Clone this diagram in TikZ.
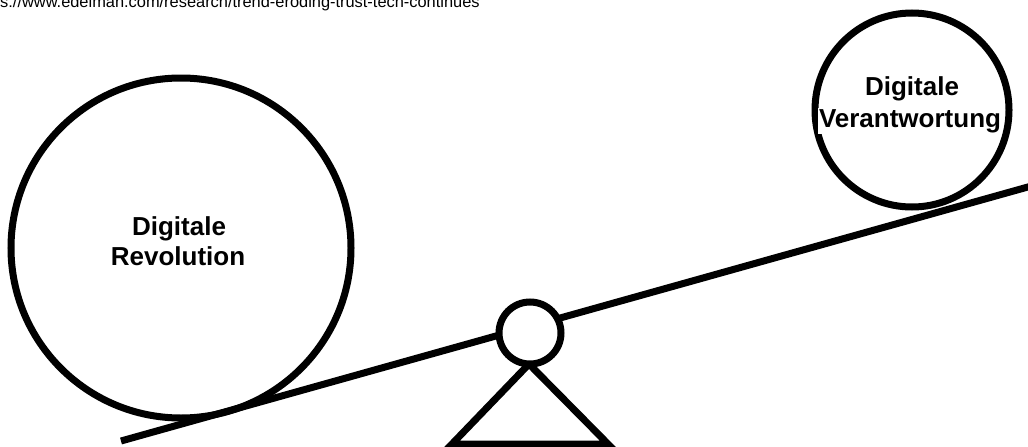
\documentclass[tikz,border=0pt]{standalone}
\usepackage{fontspec}
\setmainfont{Liberation Sans}
\begin{document}
\begin{tikzpicture}[x=1pt,y=-1pt,
  stroke/.style={line width=7pt, draw=black},
  ring/.style={stroke, circle, inner sep=0pt},
  label/.style={font=\bfseries\fontsize{26}{31}\selectfont, inner sep=1pt, fill=white, anchor=base},
  urltext/.style={font=\fontsize{16.4}{19}\selectfont, inner sep=0pt, anchor=base west}
]
\useasboundingbox (0,0) rectangle (1028,447);
\clip (0,0) rectangle (1028,447);
\fill[white] (0,0) rectangle (1028,447);

\node[urltext] (url) at (0,8) {s://www.edelman.com/research/trend-eroding-trust-tech-continues};

% beam
\coordinate (beamL) at (121,441);
\coordinate (beamR) at (1045,182.2);
\draw[stroke] (beamL) -- (beamR);

% weights
\node[ring, minimum size=340pt] (big) at (181,248) {};
\node[ring, minimum size=194pt] (small) at (912,110) {};

% fulcrum
\coordinate (apex) at (529,364);
\coordinate (baseL) at (452,444);
\coordinate (baseR) at (608,444);
\draw[stroke, line join=miter] (apex) -- (baseL) -- (baseR) -- cycle;
\node[ring, fill=white, minimum size=62pt] (pivot) at (530,333) {};

% labels
\node[label] (l1) at (179,235) {Digitale};
\node[label] (l2) at (178,265) {Revolution};
\node[label] (r1) at (912,95) {Digitale};
\node[label] (r2) at (910,127) {Verantwortung};
\end{tikzpicture}
\end{document}
